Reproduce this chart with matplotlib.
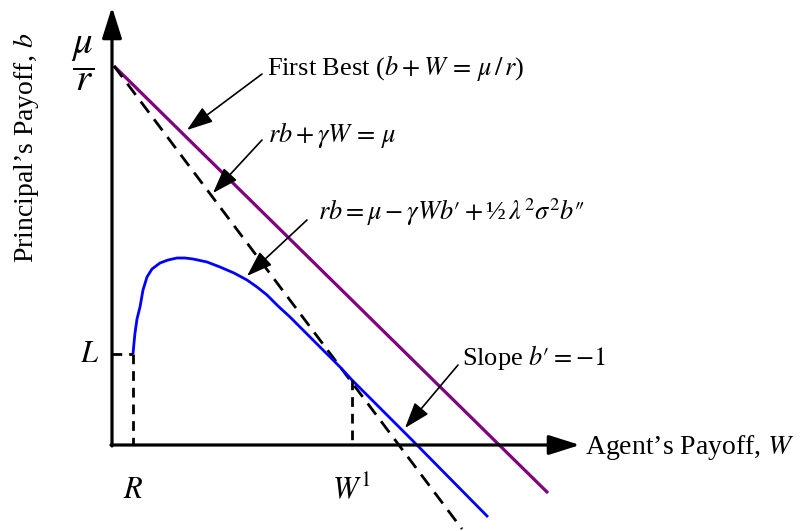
import matplotlib
matplotlib.use('Agg')
import matplotlib.pyplot as plt

plt.rcParams['font.family'] = 'Liberation Serif'
plt.rcParams['mathtext.fontset'] = 'stix'

# schematic values (W = agent's payoff, b = principal's payoff)
mu_over_r = 379
W_axis_end = 468
b_axis_end = 438

# first best line b + W = mu/r
fb_W = [2, 436]
fb_b = [379, -48]

# line rb + gamma W = mu
lin_W = [2, 350]
lin_b = [379, -84]

# value function b(W)
curve_W = [21, 22, 23, 25, 28, 31, 35, 40, 48, 56, 65, 73, 81, 95, 108, 122, 135, 145, 155, 166, 178, 188, 198, 213, 228, 240, 300, 376]
curve_b = [91, 102, 112, 126, 138, 155, 168, 176, 182, 185, 187, 187, 186, 183, 178, 172, 165, 158, 150, 139, 128, 118, 108, 93, 78, 65, 5, -72]

R_W, L_b = 21, 91
W1, W1_b = 240, 65

fig = plt.figure(figsize=(8.07, 5.31), dpi=100)
ax = fig.add_axes([0, 0, 1, 1])
ax.set_xlim(-112, 695)
ax.set_ylim(-86, 445)
ax.axis('off')

# axes with arrow heads
axis_arrow = dict(arrowstyle='-|>,head_length=1.9,head_width=0.6', lw=2.3,
                  color='black', mutation_scale=10, shrinkA=0, shrinkB=0)
ax.annotate('', xy=(0, b_axis_end), xytext=(0, -1), arrowprops=axis_arrow)
ax.annotate('', xy=(W_axis_end, 0), xytext=(-1, 0), arrowprops=axis_arrow)

# curves
ax.plot(fb_W, fb_b, color='#800080', lw=2.3, solid_capstyle='butt')
ax.plot(lin_W, lin_b, color='black', lw=2.0, linestyle=(0, (5, 3)))
ax.plot(curve_W, curve_b, color='#0000ff', lw=2.0, solid_capstyle='butt')

# dashed guides
ax.plot([0, R_W], [L_b, L_b], color='black', lw=2.0, linestyle=(0, (3.5, 2.5)))
ax.plot([R_W, R_W], [L_b, 0], color='black', lw=2.0, linestyle=(0, (3.5, 2.5)))
ax.plot([W1, W1], [W1_b, 0], color='black', lw=2.0, linestyle=(0, (3.5, 2.5)))

# labels
fs = 19
ax.text(-29, 381, r'$\dfrac{\mu}{r}$', fontsize=28, ha='center', va='center')
ax.text(-22, L_b, r'$L$', fontsize=22, ha='center', va='center')
ax.text(R_W, -45, r'$R$', fontsize=22, ha='center', va='center')
ax.text(W1, -45, r'$W^1$', fontsize=22, ha='center', va='center')
ax.text(-86, 297, 'Principal\u2019s Payoff, $b$', fontsize=20, rotation=90,
        ha='center', va='center')
ax.text(473, -2, 'Agent\u2019s Payoff, $W$', fontsize=20, ha='left', va='center')

ax.text(155, 377, r'First Best ($b+W\,=\,\mu\,/\,r$)', fontsize=fs, ha='left', va='center')
ax.text(156, 310, r'$rb+\gamma W\,=\,\mu$', fontsize=fs, ha='left', va='center')
ax.text(206, 233, '$rb=\\mu-\\gamma Wb\u2032+$\u00bd$\\,\\lambda^2\\sigma^2b\u2033$',
        fontsize=fs, ha='left', va='center')
ax.text(350, 88, 'Slope $b\u2032=-1$', fontsize=fs, ha='left', va='center')

# annotation arrows
pointer = dict(arrowstyle='-|>,head_length=1.6,head_width=0.55', lw=1.2,
               color='black', mutation_scale=10, shrinkA=0, shrinkB=0)
ax.annotate('', xy=(75, 315), xytext=(150, 371), arrowprops=pointer)
ax.annotate('', xy=(101, 252), xytext=(150, 305), arrowprops=pointer)
ax.annotate('', xy=(135, 169), xytext=(195, 225), arrowprops=pointer)
ax.annotate('', xy=(293, 17), xytext=(346, 80), arrowprops=pointer)

fig.savefig('out.png', dpi=100)
